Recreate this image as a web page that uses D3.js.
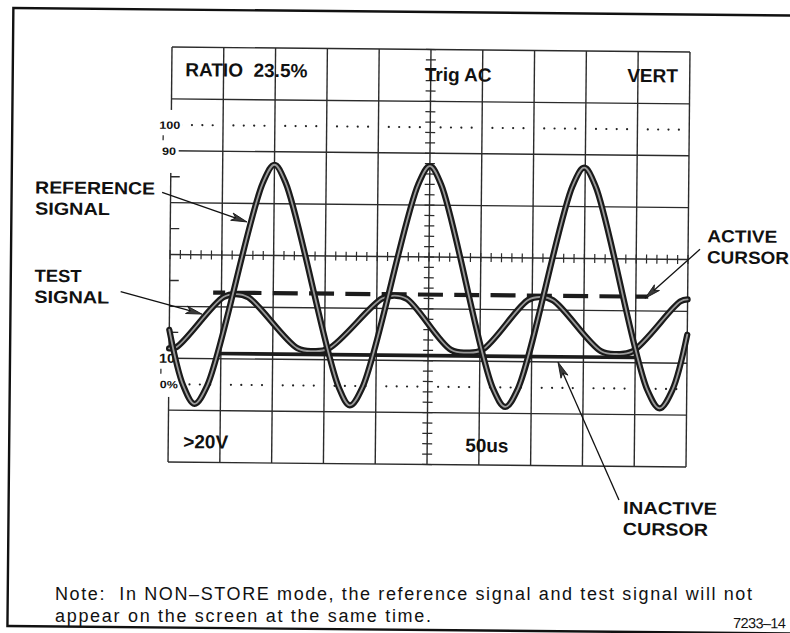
<!DOCTYPE html>
<html>
<head>
<meta charset="utf-8">
<script src="https://cdn.jsdelivr.net/npm/d3@7"></script>
<style>
  html, body { margin: 0; padding: 0; background: #fff; }
  svg { display: block; }
  text { font-family: "Liberation Sans", Arial, Helvetica, sans-serif; fill: #111; }
</style>
</head>
<body>
<div id="scope"></div>
<script>
// 示波器画面: 时间 us, 幅度 % (参考信号 0%..100%)
const refTime  = [0, 14, 25, 37, 89, 100, 111, 164, 175, 187, 239, 250, 261, 313, 325, 337, 388, 399, 410, 462, 474, 486, 500];
const refLevel = [21, -0.5, -7.5, -0.5, 78, 85, 78, -0.5, -7.5, -0.5, 78, 85, 78, -0.5, -7.5, -0.5, 78, 85, 78, -0.5, -7.5, -0.5, 21];

const testTime  = [0, 7, 52, 64, 76, 124, 139, 154, 205, 217, 229, 272, 287, 302, 346, 358, 370, 417, 432, 447, 493, 500];
const testLevel = [13.8, 14.3, 33.8, 35, 33.8, 14.3, 13.3, 14.3, 33.8, 35, 33.8, 14.3, 13.3, 14.3, 33.8, 35, 33.8, 14.3, 13.3, 14.3, 33.8, 34.6];

// 光标: active(虚线), inactive(实线)
const cursorLevel = [35.5, 12];
const cursorStart = [42, 46];
const cursorEnd   = [462, 452];

const timeDivs   = [0, 50, 100, 150, 200, 250, 300, 350, 400, 450, 500];
const levelDivs  = [-30, -10, 10, 30, 50, 70, 90, 110, 130];
const levelMarks = [100, 90, 10, 0];
const levelNames = ["100", "90", "10", "0%"];
const readouts   = ["RATIO  23.5%", "Trig AC", "VERT", ">20V", "50us"];

//绘图属性
const width = 790;
const height = 633;

var svg = d3.select("#scope").append("svg")
    .attr("width", width).attr("height", height);

// 扫描件略有倾斜
var g_root = svg.append("g").attr("transform", "rotate(0.55, 429, 257)");

var x = d3.scaleLinear().domain([0, 500]).range([170, 688]);
var y = d3.scaleLinear().domain([-30, 130]).range([464.5, 49.5]);

// 外框
g_root.append("rect")
    .attr("x", 11).attr("y", 12).attr("width", 830).attr("height", 618)
    .attr("fill", "none").attr("stroke", "#111").attr("stroke-width", 2.4);

draw_graticule();
draw_level_labels();
draw_readouts();
draw_cursors();
draw_traces();
draw_notes();

function draw_graticule() {
    let g = g_root.append("g").attr("id", "graticule")
        .attr("stroke", "#2b2b2b").attr("stroke-width", 1.4);

    g.selectAll(".vline").data(timeDivs).join("line")
        .attr("x1", d => x(d)).attr("x2", d => x(d))
        .attr("y1", y(-30)).attr("y2", y(130));

    g.selectAll(".hline").data(levelDivs).join("line")
        .attr("x1", x(0)).attr("x2", x(500))
        .attr("y1", d => y(d)).attr("y2", d => y(d));

    // 中心十字上的小刻度
    let minorT = x.ticks(50);
    g.selectAll(".tickx").data(minorT).join("line")
        .attr("x1", d => x(d)).attr("x2", d => x(d))
        .attr("y1", y(50) - 4.5).attr("y2", y(50) + 4.5)
        .attr("stroke-width", 1.2);

    let minorL = d3.range(-30, 131, 4);
    g.selectAll(".ticky").data(minorL).join("line")
        .attr("x1", x(250) - 5).attr("x2", x(250) + 5)
        .attr("y1", d => y(d)).attr("y2", d => y(d))
        .attr("stroke-width", 1.2);

    // 左边框半格刻度
    g.selectAll(".tickedge").data([80, 60, 40, 20]).join("line")
        .attr("x1", x(0)).attr("x2", x(0) + 9)
        .attr("y1", d => y(d)).attr("y2", d => y(d));

    // 0% 与 100% 点线
    let dots = minorT.filter(t => t % 50 !== 0);
    let dg = g_root.append("g").attr("fill", "#222");
    [0, 100].forEach(lv => {
        dg.selectAll(null).data(dots).join("circle")
            .attr("cx", d => x(d)).attr("cy", y(lv)).attr("r", 1.1);
    });
}

function draw_level_labels() {
    // 左边框在标签处断开
    g_root.append("rect").attr("x", 148).attr("y", 112.5).attr("width", 29).attr("height", 63)
        .attr("fill", "#fff");
    g_root.append("rect").attr("x", 148).attr("y", 349.5).attr("width", 29).attr("height", 50)
        .attr("fill", "#fff");

    let sizes = [10.5, 10.5, 13, 10.5];
    let lens = [21, 14, 16, 18];
    let rights = [179, 175, 176, 179];
    levelMarks.forEach((lv, i) => {
        let t = g_root.append("text")
            .attr("x", rights[i]).attr("y", y(lv))
            .attr("text-anchor", "end").attr("dominant-baseline", "central")
            .attr("font-size", sizes[i]).attr("font-weight", "bold")
            .attr("textLength", lens[i]).attr("lengthAdjust", "spacingAndGlyphs")
            .text(levelNames[i]);
        let b = t.node().getBBox();
        g_root.insert("rect", () => t.node())
            .attr("x", b.x - 1.5).attr("y", b.y + 1).attr("width", b.width + 4).attr("height", b.height - 2)
            .attr("fill", "#fff");
    });

    // 100-90 与 10-0 之间的小记号
    g_root.selectAll(".midmark").data([95, 5]).join("line")
        .attr("x1", 162).attr("x2", 162)
        .attr("y1", d => y(d) - 2.5).attr("y2", d => y(d) + 2.5)
        .attr("stroke", "#222").attr("stroke-width", 1.2);
}

function draw_readouts() {
    let pos = [[183.5, 78.5], [423, 81], [625.5, 80], [185, 450.5], [467, 451.5]];
    g_root.selectAll(".readout").data(readouts).join("text")
        .attr("x", (d, i) => pos[i][0]).attr("y", (d, i) => pos[i][1])
        .attr("font-size", 19).attr("font-weight", "bold")
        .attr("xml:space", "preserve")
        .text(d => d);
}

function draw_cursors() {
    let g = g_root.append("g").attr("id", "cursors").attr("stroke", "#1c1c1c");
    g.append("line")
        .attr("x1", x(cursorStart[0])).attr("x2", x(cursorEnd[0]))
        .attr("y1", y(cursorLevel[0])).attr("y2", y(cursorLevel[0]))
        .attr("stroke-width", 4.2)
        .attr("stroke-dasharray", "25 11.3").attr("stroke-dashoffset", 13);
    g.append("line")
        .attr("x1", x(cursorStart[1])).attr("x2", x(cursorEnd[1]))
        .attr("y1", y(cursorLevel[1])).attr("y2", y(cursorLevel[1]))
        .attr("stroke-width", 3.6);
}

function draw_traces() {
    let line = d3.line()
        .x(d => x(d[0])).y(d => y(d[1]))
        .curve(d3.curveCatmullRom.alpha(0.5));
    let series = [d3.zip(testTime, testLevel), d3.zip(refTime, refLevel)];
    let g = g_root.append("g").attr("id", "traces").attr("fill", "none")
        .attr("stroke-linejoin", "round").attr("stroke-linecap", "round");
    series.forEach(pts => {
        g.append("path").attr("d", line(pts))
            .attr("stroke", "#1a1a1a").attr("stroke-width", 6.2);
        g.append("path").attr("d", line(pts))
            .attr("stroke", "#9a9a9a").attr("stroke-width", 1.8);
    });
}

function draw_arrow(x1, y1, x2, y2) {
    let ang = Math.atan2(y2 - y1, x2 - x1) * 180 / Math.PI;
    let len = Math.hypot(x2 - x1, y2 - y1);
    let g = g_root.append("g")
        .attr("transform", "translate(" + x2 + "," + y2 + ") rotate(" + ang + ")");
    g.append("line").attr("x1", -len).attr("y1", 0).attr("x2", -8).attr("y2", 0)
        .attr("stroke", "#111").attr("stroke-width", 1.3);
    g.append("path").attr("d", "M0,0 L-16,-3.8 L-12,0 L-16,3.8 Z")
        .attr("fill", "#3a3a3a").attr("stroke", "#111").attr("stroke-width", 0.8);
}

// 两行粗体标注, 用 textLength 保持原图宽度
function add_label(parent, s, px, py, len) {
    parent.append("text").attr("x", px).attr("y", py)
        .attr("textLength", len).attr("lengthAdjust", "spacingAndGlyphs")
        .text(s);
}

function draw_notes() {
    let lab = g_root.append("g").attr("font-size", 17.5).attr("font-weight", "bold");
    add_label(lab, "REFERENCE", 34.5, 197.2, 120);
    add_label(lab, "SIGNAL", 34.5, 218.3, 75);
    add_label(lab, "TEST", 34.7, 285.5, 47);
    add_label(lab, "SIGNAL", 34.7, 306.6, 75);
    add_label(lab, "ACTIVE", 707, 239.5, 70);
    add_label(lab, "CURSOR", 707, 260.6, 82);
    add_label(lab, "INACTIVE", 625.5, 512, 94);
    add_label(lab, "CURSOR", 625.5, 533.1, 85);

    draw_arrow(161.5, 195, 246.7, 223.7);
    draw_arrow(121, 294.5, 202.5, 316.3);
    draw_arrow(699.9, 246.7, 645.4, 296.2);
    draw_arrow(621.3, 498.2, 559, 360.8);

    // 注释长句不随画面旋转, 免得外框变高
    svg.append("text").attr("x", 55).attr("y", 600.3)
        .attr("font-size", 18).attr("xml:space", "preserve")
        .attr("textLength", 697).attr("lengthAdjust", "spacing")
        .text("Note:  In NON\u2013STORE mode, the reference signal and test signal will not");
    svg.append("text").attr("x", 55).attr("y", 621.8)
        .attr("font-size", 18)
        .attr("textLength", 376).attr("lengthAdjust", "spacing")
        .text("appear on the screen at the same time.");

    g_root.append("text").attr("x", 736.5).attr("y", 625)
        .attr("font-size", 14.5)
        .attr("textLength", 53).attr("lengthAdjust", "spacing")
        .text("7233\u201314");
}
</script>
</body>
</html>
